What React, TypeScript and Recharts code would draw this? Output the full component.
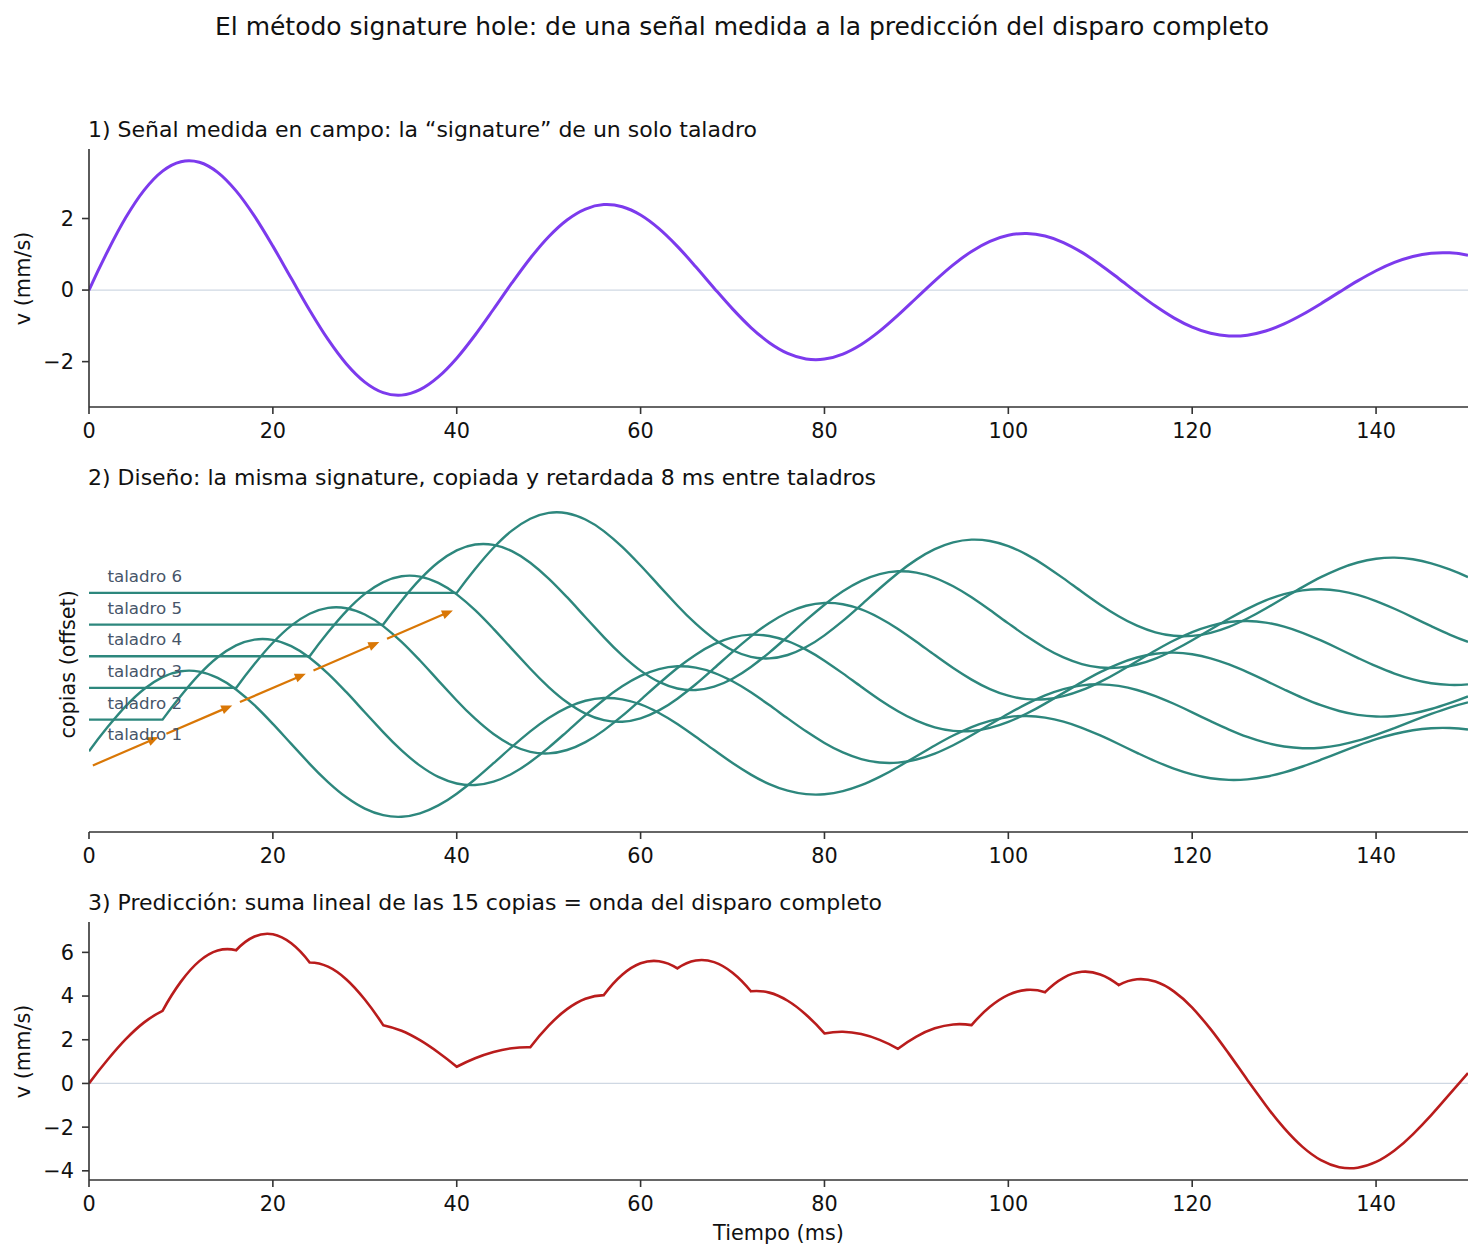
import React from 'react';
import { LineChart, Line, XAxis, YAxis, CartesianGrid, ReferenceLine, ReferenceDot } from 'recharts';

// ---------------- data ----------------
const TIME = [
  0, 2, 4, 6, 8, 10, 12, 14, 16, 18, 20, 22, 24, 26, 28, 30, 32, 34, 36, 38,
  40, 42, 44, 46, 48, 50, 52, 54, 56, 58, 60, 62, 64, 66, 68, 70, 72, 74, 76, 78,
  80, 82, 84, 86, 88, 90, 92, 94, 96, 98, 100, 102, 104, 106, 108, 110, 112, 114, 116, 118,
  120, 122, 124, 126, 128, 130, 132, 134, 136, 138, 140, 142, 144, 146, 148, 150,
];

// panel 1: measured single-hole signature (mm/s)
const SIGNATURE = [
  0, 1.072, 2.026, 2.794, 3.325, 3.588, 3.573, 3.291, 2.772, 2.065,
  1.228, 0.329, -0.563, -1.38, -2.065, -2.571, -2.866, -2.936, -2.784, -2.428,
  -1.904, -1.255, -0.536, 0.198, 0.891, 1.492, 1.96, 2.265, 2.389, 2.329,
  2.098, 1.717, 1.222, 0.652, 0.054, -0.526, -1.047, -1.47, -1.769, -1.924,
  -1.929, -1.79, -1.522, -1.149, -0.703, -0.221, 0.26, 0.705, 1.081, 1.363,
  1.533, 1.581, 1.51, 1.328, 1.053, 0.709, 0.324, -0.071, -0.447, -0.776,
  -1.035, -1.208, -1.283, -1.26, -1.144, -0.945, -0.683, -0.38, -0.058, 0.256,
  0.54, 0.773, 0.94, 1.031, 1.041, 0.973,
];

// panel 3: predicted full-blast waveform (mm/s)
const PREDICTION = [
  0, 1.072, 2.026, 2.794, 3.325, 4.66, 5.599, 6.085, 6.097, 6.725,
  6.827, 6.414, 5.534, 5.345, 4.762, 3.843, 2.668, 2.409, 1.978, 1.415,
  0.764, 1.154, 1.442, 1.613, 1.655, 2.646, 3.402, 3.878, 4.044, 4.975,
  5.5, 5.595, 5.266, 5.627, 5.554, 5.069, 4.219, 4.157, 3.785, 3.145,
  2.29, 2.367, 2.263, 1.996, 1.587, 2.146, 2.523, 2.701, 2.668, 3.509,
  4.056, 4.282, 4.178, 4.837, 5.109, 4.991, 4.502, 4.766, 4.662, 4.215,
  3.467, 2.486, 1.353, 0.161, -1.002, -2.047, -2.903, -3.51, -3.832, -3.856,
  -3.591, -3.066, -2.329, -1.445, -0.485, 0.478,
];

// panel 2: copies
const DELAYS = [0, 8, 16, 24, 32, 40];
const OFFSETS = [0, 1.42, 2.84, 4.26, 5.68, 7.1];
const HOLE_LABELS = ['taladro 1', 'taladro 2', 'taladro 3', 'taladro 4', 'taladro 5', 'taladro 6'];

const X_TICKS = [0, 20, 40, 60, 80, 100, 120, 140];
const Y1_TICKS = [-2, 0, 2];
const Y3_TICKS = [-4, -2, 0, 2, 4, 6];

// ---------------- style ----------------
const FONT = '"DejaVu Sans", sans-serif';
const SPINE = '#333333';
const TXT = '#111111';
const PURPLE = '#7c3aed';
const TEAL = '#2d877d';
const RED = '#b91c1c';
const ORANGE = '#d97706';
const ZERO = '#cfd8e3';
const GRID2 = '#e3e9f1';
const LABEL_GRAY = '#475569';

const LABEL_T = 2;
const LABEL_DY = 0.49;
const ARROW_DROP = 0.71;

const W = 1484;

const fmt = (v: number) => (v < 0 ? '\u2212' + Math.abs(v) : String(v));
const tickStyle = { fontSize: 20.8, fill: TXT, fontFamily: FONT };
const axisLineStyle = { stroke: SPINE, strokeWidth: 1.6 };

// cubic Hermite curve that keeps kinks at every `breakEvery`-th sample
function kinkCurve(breakEvery: number) {
  return function (context: any) {
    let xs: number[] = [];
    let ys: number[] = [];
    return {
      areaStart() {},
      areaEnd() {},
      lineStart() {
        xs = [];
        ys = [];
      },
      point(x: number, y: number) {
        xs.push(+x);
        ys.push(+y);
      },
      lineEnd() {
        const n = xs.length;
        if (n === 0) return;
        context.moveTo(xs[0], ys[0]);
        if (n === 1) return;
        if (n === 2) {
          context.lineTo(xs[1], ys[1]);
          return;
        }
        const isBreak = (i: number) => i % breakEvery === 0;
        const central = (i: number) => (ys[i + 1] - ys[i - 1]) / (xs[i + 1] - xs[i - 1]);
        const slopeL = (i: number) => {
          if (isBreak(i) || i === n - 1) {
            if (i >= 2) return (3 * ys[i] - 4 * ys[i - 1] + ys[i - 2]) / (xs[i] - xs[i - 2]);
            return (ys[i] - ys[i - 1]) / (xs[i] - xs[i - 1]);
          }
          return central(i);
        };
        const slopeR = (i: number) => {
          if (isBreak(i) || i === 0) {
            if (i <= n - 3) return (-3 * ys[i] + 4 * ys[i + 1] - ys[i + 2]) / (xs[i + 2] - xs[i]);
            return (ys[i + 1] - ys[i]) / (xs[i + 1] - xs[i]);
          }
          return central(i);
        };
        for (let i = 0; i < n - 1; i++) {
          const h = xs[i + 1] - xs[i];
          const m0 = slopeR(i);
          const m1 = slopeL(i + 1);
          context.bezierCurveTo(
            xs[i] + h / 3,
            ys[i] + (m0 * h) / 3,
            xs[i + 1] - h / 3,
            ys[i + 1] - (m1 * h) / 3,
            xs[i + 1],
            ys[i + 1]
          );
        }
      },
    };
  };
}

const smoothCurve = kinkCurve(Infinity);
const kinked = kinkCurve(4);

const ArrowShape = (props: any) => {
  const { x1, y1, x2, y2 } = props;
  if ([x1, y1, x2, y2].some((v) => typeof v !== 'number' || isNaN(v))) return <g />;
  const dx = x2 - x1;
  const dy = y2 - y1;
  const len = Math.hypot(dx, dy) || 1;
  const ux = dx / len;
  const uy = dy / len;
  const shrink = 4.2;
  const headL = 11;
  const headW = 4.6;
  const sx = x1 + ux * shrink;
  const sy = y1 + uy * shrink;
  const tx = x2 - ux * shrink;
  const ty = y2 - uy * shrink;
  const bx = tx - ux * headL;
  const by = ty - uy * headL;
  return (
    <g>
      <line x1={sx} y1={sy} x2={bx + ux * 1} y2={by + uy * 1} stroke={ORANGE} strokeWidth={2.2} />
      <polygon
        points={`${tx},${ty} ${bx - uy * headW},${by + ux * headW} ${bx + uy * headW},${by - ux * headW}`}
        fill={ORANGE}
      />
    </g>
  );
};

const makeHoleLabel = (text: string) => (p: any) => {
  const vb = (p && p.viewBox) || {};
  return (
    <text x={vb.x} y={vb.y} fill={LABEL_GRAY} fontSize={16.7} fontFamily={FONT} textAnchor="start">
      {text}
    </text>
  );
};

// ---------------- panels ----------------
function Panel1() {
  const data = TIME.map((t, i) => ({ t, v: SIGNATURE[i] }));
  return (
    <LineChart width={W} height={318} data={data} margin={{ top: 10, right: 16, bottom: 0, left: 9 }}>
      <CartesianGrid horizontal vertical={false} horizontalValues={[0]} stroke={ZERO} strokeWidth={1.3} />
      <XAxis
        type="number"
        dataKey="t"
        domain={[0, 150]}
        ticks={X_TICKS}
        interval={0}
        height={50}
        tickSize={7}
        tickMargin={9}
        axisLine={axisLineStyle}
        tickLine={axisLineStyle}
        tick={tickStyle}
        tickFormatter={fmt}
        allowDataOverflow
      />
      <YAxis
        type="number"
        domain={[-3.268, 3.943]}
        ticks={Y1_TICKS}
        interval={0}
        width={80}
        tickSize={7}
        tickMargin={8}
        axisLine={axisLineStyle}
        tickLine={axisLineStyle}
        tick={tickStyle}
        tickFormatter={fmt}
        allowDataOverflow
      />
      <Line dataKey="v" type={smoothCurve as any} stroke={PURPLE} strokeWidth={3} dot={false} isAnimationActive={false} />
    </LineChart>
  );
}

function Panel2() {
  const data = TIME.map((t) => {
    const row: any = { t };
    DELAYS.forEach((d, k) => {
      const j = TIME.indexOf(t - d);
      row['c' + k] = OFFSETS[k] + (j >= 0 ? SIGNATURE[j] : 0);
    });
    return row;
  });
  const arrows = DELAYS.slice(0, DELAYS.length - 1).map((d, k) => [
    { x: d, y: OFFSETS[k] - ARROW_DROP },
    { x: DELAYS[k + 1], y: OFFSETS[k + 1] - ARROW_DROP },
  ]);
  return (
    <LineChart width={W} height={395} data={data} margin={{ top: 10, right: 16, bottom: 0, left: 9 }}>
      <CartesianGrid horizontal vertical={false} horizontalValues={OFFSETS} stroke={GRID2} strokeWidth={1.3} />
      <XAxis
        type="number"
        dataKey="t"
        domain={[0, 150]}
        ticks={X_TICKS}
        interval={0}
        height={50}
        tickSize={7}
        tickMargin={9}
        axisLine={axisLineStyle}
        tickLine={axisLineStyle}
        tick={tickStyle}
        tickFormatter={fmt}
        allowDataOverflow
      />
      <YAxis
        type="number"
        domain={[-3.62, 11.4]}
        width={80}
        axisLine={false}
        tickLine={false}
        tick={false}
        allowDataOverflow
      />
      {DELAYS.map((d, k) => (
        <Line
          key={'c' + k}
          dataKey={'c' + k}
          type={kinked as any}
          stroke={TEAL}
          strokeWidth={2.4}
          dot={false}
          isAnimationActive={false}
        />
      ))}
      {arrows.map((seg, k) => (
        <ReferenceLine key={'a' + k} segment={seg} shape={ArrowShape} ifOverflow="visible" />
      ))}
      {OFFSETS.map((o, k) => (
        <ReferenceDot
          key={'l' + k}
          x={LABEL_T}
          y={o + LABEL_DY}
          r={0}
          fill="none"
          stroke="none"
          ifOverflow="visible"
          label={makeHoleLabel(HOLE_LABELS[k])}
        />
      ))}
    </LineChart>
  );
}

function Panel3() {
  const data = TIME.map((t, i) => ({ t, v: PREDICTION[i] }));
  return (
    <LineChart width={W} height={318} data={data} margin={{ top: 10, right: 16, bottom: 0, left: 9 }}>
      <CartesianGrid horizontal vertical={false} horizontalValues={[0]} stroke={ZERO} strokeWidth={1.3} />
      <XAxis
        type="number"
        dataKey="t"
        domain={[0, 150]}
        ticks={X_TICKS}
        interval={0}
        height={50}
        tickSize={7}
        tickMargin={9}
        axisLine={axisLineStyle}
        tickLine={axisLineStyle}
        tick={tickStyle}
        tickFormatter={fmt}
        allowDataOverflow
      />
      <YAxis
        type="number"
        domain={[-4.42, 7.39]}
        ticks={Y3_TICKS}
        interval={0}
        width={80}
        tickSize={7}
        tickMargin={8}
        axisLine={axisLineStyle}
        tickLine={axisLineStyle}
        tick={tickStyle}
        tickFormatter={fmt}
        allowDataOverflow
      />
      <Line dataKey="v" type={kinked as any} stroke={RED} strokeWidth={2.6} dot={false} isAnimationActive={false} />
    </LineChart>
  );
}

// ---------------- text helpers ----------------
const Txt = (p: { left: number; top: number; size: number; children: React.ReactNode; width?: number; align?: any }) => (
  <div
    style={{
      position: 'absolute',
      left: p.left,
      top: p.top,
      width: p.width,
      textAlign: p.align || 'left',
      fontSize: p.size,
      lineHeight: p.size + 'px',
      fontFamily: FONT,
      color: TXT,
      whiteSpace: 'nowrap',
    }}
  >
    {p.children}
  </div>
);

const VLabel = (p: { cx: number; cy: number; text: string }) => {
  const w = 320;
  const h = 20.8;
  return (
    <div
      style={{
        position: 'absolute',
        left: p.cx - w / 2,
        top: p.cy - h / 2,
        width: w,
        height: h,
        lineHeight: h + 'px',
        fontSize: 20.8,
        fontFamily: FONT,
        color: TXT,
        textAlign: 'center',
        whiteSpace: 'nowrap',
        transform: 'rotate(-90deg)',
        transformOrigin: '50% 50%',
      }}
    >
      {p.text}
    </div>
  );
};

export default function App() {
  return (
    <div style={{ position: 'absolute', left: 0, top: 0, width: W, height: 1259, background: '#ffffff', overflow: 'hidden' }}>
      <Txt left={0} top={13.5} size={25} width={W} align="center">
        El método signature hole: de una señal medida a la predicción del disparo completo
      </Txt>

      <Txt left={88} top={118.7} size={22}>1) Señal medida en campo: la “signature” de un solo taladro</Txt>
      <Txt left={88} top={466.7} size={22}>2) Diseño: la misma signature, copiada y retardada 8 ms entre taladros</Txt>
      <Txt left={88} top={891.7} size={22}>3) Predicción: suma lineal de las 15 copias = onda del disparo completo</Txt>

      <div style={{ position: 'absolute', left: 0, top: 139 }}>
        <Panel1 />
      </div>
      <div style={{ position: 'absolute', left: 0, top: 487 }}>
        <Panel2 />
      </div>
      <div style={{ position: 'absolute', left: 0, top: 912 }}>
        <Panel3 />
      </div>

      <VLabel cx={23.4} cy={278} text="v (mm/s)" />
      <VLabel cx={68.4} cy={664.5} text="copias (offset)" />
      <VLabel cx={23.4} cy={1051} text="v (mm/s)" />

      <Txt left={578.5} top={1223.1} size={20.8} width={400} align="center">Tiempo (ms)</Txt>
    </div>
  );
}
